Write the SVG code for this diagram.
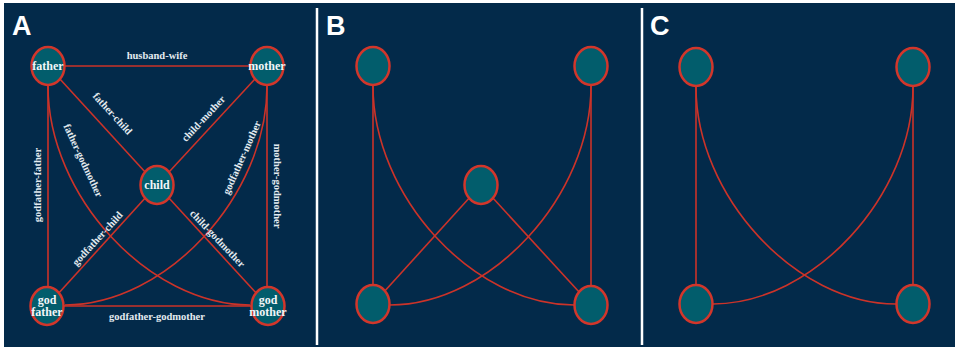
<svg xmlns="http://www.w3.org/2000/svg" width="957" height="352" viewBox="0 0 957 352">
<defs>
<style>
.bg{fill:#032a4a}
.div{stroke:#ffffff;stroke-width:2.5}
.node{fill:#025d6c;stroke:#d2362b;stroke-width:2.5}
.edge{fill:none;stroke:#cc3329;stroke-width:1.6}
.lbl{font-family:"Liberation Serif",serif;font-weight:bold;font-size:10.5px;fill:#e4ebf0;text-anchor:middle}
.nt{font-family:"Liberation Serif",serif;font-weight:bold;font-size:12px;fill:#f2f6f8;text-anchor:middle}
.panel{font-family:"Liberation Sans",Arial,sans-serif;font-weight:bold;font-size:27px;fill:#ffffff}
</style>
</defs>
<rect x="0" y="0" width="957" height="352" fill="#ffffff"/>
<rect class="bg" x="4" y="3" width="951" height="344"/>
<line class="div" x1="317" y1="8" x2="317" y2="345"/>
<line class="div" x1="642" y1="8" x2="642" y2="345"/>
<text class="panel" x="12" y="35">A</text>
<text class="panel" x="326" y="35">B</text>
<text class="panel" x="650" y="35">C</text>

<g id="connectors">
<!-- Panel A -->
<line class="edge" x1="48" y1="66" x2="267" y2="66"/>
<line class="edge" x1="48" y1="66" x2="157" y2="185"/>
<line class="edge" x1="267" y1="66" x2="157" y2="185"/>
<line class="edge" x1="48" y1="66" x2="48" y2="306"/>
<line class="edge" x1="267" y1="66" x2="267" y2="306"/>
<line class="edge" x1="47" y1="306" x2="157" y2="185"/>
<line class="edge" x1="268" y1="306" x2="157" y2="185"/>
<line class="edge" x1="47" y1="306" x2="268" y2="306"/>
<path class="edge" d="M48,86 C48,196 149,305 250,305"/>
<path class="edge" d="M267,86 C267,196 166,305 65,305"/>
<!-- Panel B -->
<line class="edge" x1="373" y1="66" x2="373" y2="304"/>
<line class="edge" x1="591" y1="66" x2="591" y2="305"/>
<line class="edge" x1="373" y1="304" x2="481" y2="185"/>
<line class="edge" x1="591" y1="305" x2="481" y2="185"/>
<path class="edge" d="M373,86 C373,196 473,305 574,305"/>
<path class="edge" d="M591,86 C591,196 491,305 390,305"/>
<!-- Panel C -->
<line class="edge" x1="696" y1="67" x2="696" y2="304"/>
<line class="edge" x1="913" y1="67" x2="913" y2="304"/>
<path class="edge" d="M696,87 C696,196 796,304 896,304"/>
<path class="edge" d="M913,87 C913,196 813,304 713,304"/>
</g>

<g id="edge-labels">
<text class="lbl" x="157" y="59">husband-wife</text>
<text class="lbl" transform="translate(110,116) rotate(47.5)" x="0" y="0">father-child</text>
<text class="lbl" transform="translate(206,121) rotate(-47)" x="0" y="0">child-mother</text>
<text class="lbl" transform="translate(80,162) rotate(65)" x="0" y="0">father-godmother</text>
<text class="lbl" transform="translate(41,185) rotate(-90)" x="0" y="0">godfather-father</text>
<text class="lbl" transform="translate(273.5,186) rotate(90)" x="0" y="0">mother-godmother</text>
<text class="lbl" transform="translate(245,159) rotate(-66)" x="0" y="0">godfather-mother</text>
<text class="lbl" transform="translate(100,241) rotate(-47.5)" x="0" y="0">godfather-child</text>
<text class="lbl" transform="translate(215,241) rotate(46.5)" x="0" y="0">child-godmother</text>
<text class="lbl" x="157" y="320">godfather-godmother</text>
</g>

<g id="A-father"><ellipse class="node" cx="48" cy="66" rx="16.5" ry="19"/><text class="nt" x="48" y="69.5">father</text></g>
<g id="A-mother"><ellipse class="node" cx="267" cy="66" rx="16.5" ry="19"/><text class="nt" x="267" y="69.5">mother</text></g>
<g id="A-child"><ellipse class="node" cx="157" cy="185" rx="16.5" ry="19"/><text class="nt" x="157" y="189">child</text></g>
<g id="A-godfather"><ellipse class="node" cx="47" cy="306" rx="16.5" ry="19"/><text class="nt" x="47" y="303.5">god<tspan x="47" dy="12.5">father</tspan></text></g>
<g id="A-godmother"><ellipse class="node" cx="268" cy="306" rx="16.5" ry="19"/><text class="nt" x="268" y="303.5">god<tspan x="268" dy="12.5">mother</tspan></text></g>

<g id="B-father"><ellipse class="node" cx="373" cy="66" rx="16.5" ry="19"/></g>
<g id="B-mother"><ellipse class="node" cx="591" cy="66" rx="16.5" ry="19"/></g>
<g id="B-child"><ellipse class="node" cx="481" cy="185" rx="16.5" ry="19"/></g>
<g id="B-godfather"><ellipse class="node" cx="373" cy="304" rx="16.5" ry="19"/></g>
<g id="B-godmother"><ellipse class="node" cx="591" cy="305" rx="16.5" ry="19"/></g>

<g id="C-father"><ellipse class="node" cx="696" cy="67" rx="16.5" ry="19"/></g>
<g id="C-mother"><ellipse class="node" cx="913" cy="67" rx="16.5" ry="19"/></g>
<g id="C-godfather"><ellipse class="node" cx="696" cy="304" rx="16.5" ry="19"/></g>
<g id="C-godmother"><ellipse class="node" cx="913" cy="304" rx="16.5" ry="19"/></g>
</svg>
